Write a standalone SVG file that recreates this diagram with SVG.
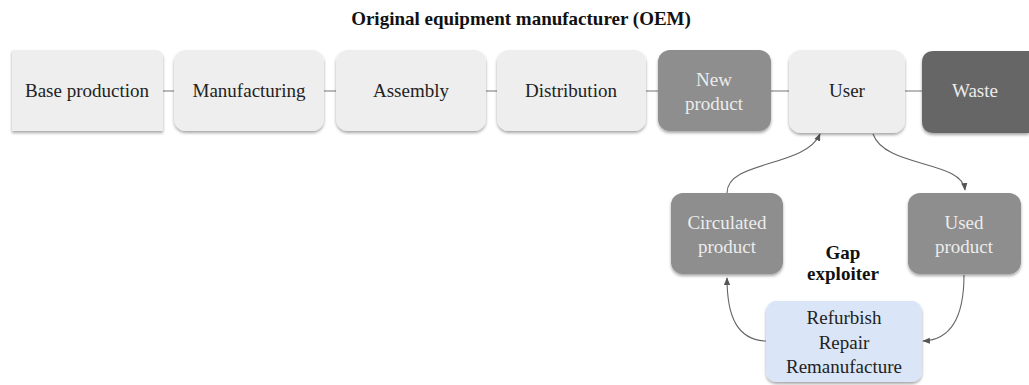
<svg xmlns="http://www.w3.org/2000/svg" width="1029" height="385" viewBox="0 0 1029 385">
  <defs>
    <filter id="shadow" x="-10%" y="-10%" width="120%" height="130%">
      <feDropShadow dx="0" dy="2" stdDeviation="1.5" flood-color="#000" flood-opacity="0.35"/>
    </filter>
    <marker id="arrow" viewBox="0 0 10 10" refX="9" refY="5" markerWidth="7" markerHeight="7" orient="auto-start-reverse">
      <path d="M0,1 L10,5 L0,9 z" fill="#555"/>
    </marker>
    <style>
      .box { filter: url(#shadow); }
      .light { fill: #eeeeee; }
      .mid { fill: #8e8e8e; }
      .dark { fill: #666666; }
      .blue { fill: #dae6f7; }
      .lbl { font-family: "Liberation Serif", "DejaVu Serif", serif; font-size: 19px; text-anchor: middle; }
      .ink { fill: #222; }
      .pale { fill: #ececec; }
      .head { font-family: "Liberation Serif", "DejaVu Serif", serif; font-weight: bold; text-anchor: middle; fill: #111; }
      .link { stroke: #8a8a8a; stroke-width: 1.2; fill: none; }
      .flow { stroke: #666; stroke-width: 1.1; fill: none; marker-end: url(#arrow); }
    </style>
  </defs>

  <rect width="1029" height="385" fill="#ffffff"/>

  <text class="head" x="521" y="25" font-size="19">Original equipment manufacturer (OEM)</text>

  <g id="connectors">
    <line class="link" x1="163" y1="91" x2="174" y2="91"/>
    <line class="link" x1="324" y1="91" x2="336" y2="91"/>
    <line class="link" x1="486" y1="91" x2="497" y2="91"/>
    <line class="link" x1="646" y1="91" x2="658" y2="91"/>
    <line class="link" x1="771" y1="91" x2="789" y2="91"/>
    <line class="link" x1="905" y1="91" x2="922" y2="91"/>
    <path class="flow" d="M727,193 C727,160 805,168 820,134"/>
    <path class="flow" d="M873,134 C885,168 962,160 965,190"/>
    <path class="flow" d="M964,275 C964,318 950,340 923,341"/>
    <path class="flow" d="M766,341 C738,340 727,318 727,278"/>
  </g>

  <g id="base-production">
    <path class="box light" d="M12,50 H155 Q163,50 163,58 V131 H12 Z"/>
    <text class="lbl ink" x="87" y="97">Base production</text>
  </g>
  <g id="manufacturing">
    <rect class="box light" x="174" y="50" width="150" height="81" rx="12"/>
    <text class="lbl ink" x="249" y="97">Manufacturing</text>
  </g>
  <g id="assembly">
    <rect class="box light" x="336" y="50" width="150" height="81" rx="12"/>
    <text class="lbl ink" x="411" y="97">Assembly</text>
  </g>
  <g id="distribution">
    <rect class="box light" x="497" y="50" width="149" height="81" rx="12"/>
    <text class="lbl ink" x="571" y="97">Distribution</text>
  </g>
  <g id="new-product">
    <rect class="box mid" x="658" y="50" width="113" height="81" rx="12"/>
    <text class="lbl pale" x="714" y="86">New</text>
    <text class="lbl pale" x="714" y="110">product</text>
  </g>
  <g id="user">
    <rect class="box light" x="789" y="50" width="116" height="83" rx="12"/>
    <text class="lbl ink" x="847" y="97">User</text>
  </g>
  <g id="waste">
    <path class="box dark" d="M934,51 H1029 V133 H934 Q922,133 922,121 V63 Q922,51 934,51 Z"/>
    <text class="lbl pale" x="975" y="97">Waste</text>
  </g>
  <g id="circulated-product">
    <rect class="box mid" x="671" y="193" width="112" height="81" rx="12"/>
    <text class="lbl pale" x="727" y="229">Circulated</text>
    <text class="lbl pale" x="727" y="253">product</text>
  </g>
  <g id="used-product">
    <rect class="box mid" x="908" y="193" width="113" height="81" rx="12"/>
    <text class="lbl pale" x="964" y="229">Used</text>
    <text class="lbl pale" x="964" y="253">product</text>
  </g>
  <g id="gap-exploiter">
    <text class="head" x="843" y="259" font-size="19">Gap</text>
    <text class="head" x="843" y="280" font-size="19">exploiter</text>
  </g>
  <g id="refurbish">
    <rect class="box blue" x="766" y="301" width="156" height="81" rx="10"/>
    <text class="lbl ink" x="844" y="324">Refurbish</text>
    <text class="lbl ink" x="844" y="349">Repair</text>
    <text class="lbl ink" x="844" y="373">Remanufacture</text>
  </g>
</svg>
